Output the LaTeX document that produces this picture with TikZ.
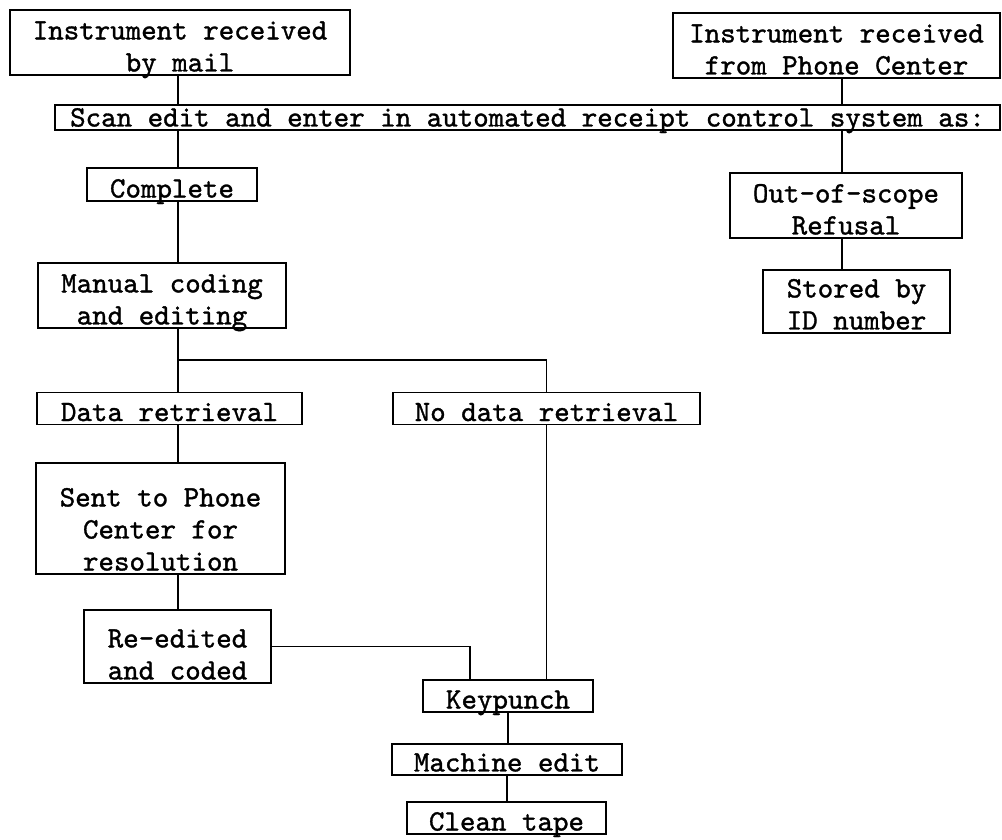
\documentclass[tikz,border=0pt]{standalone}
\usepackage{fontspec}
\newfontfamily\twfont[FakeBold=1.2]{lmmono10-regular.otf}
\usetikzlibrary{positioning,calc}

\begin{document}
\begin{tikzpicture}[x=0.025cm,y=-0.025cm,line width=1.3pt,
  box/.style={draw, font=\twfont\fontsize{21}{22.8}\selectfont, align=center, inner xsep=3pt, inner ysep=0pt, text depth=2.5pt}]
\useasboundingbox (0,0) rectangle (1002,840);

% Spines for the vertical runs
\coordinate (spine) at (178,0);
\coordinate (rspine) at (842,0);

% Incoming instruments
\node[box, text height=43.7pt, minimum width=8.5cm] (mail) at (180,42.5) {Instrument received\\by mail};
\node[box, text height=43.7pt, minimum width=8.175cm] (phone) at (836.5,45.5) {Instrument received\\from Phone Center};

% Receipt control
\node[box, text height=15.3pt, minimum width=23.625cm] (scan) at (527.5,117.5) {Scan edit and enter in automated receipt control system as:};
\node[box, text height=21pt, minimum width=4.25cm] (complete) at (172,184.5) {Complete};
\node[box, text height=43.7pt, minimum width=5.8cm] (oos) at (846,205.5) {Out-of-scope\\Refusal};
\node[box, text height=42.3pt, minimum width=4.675cm] (stored) at (856.5,301.5) {Stored by\\ID number};

% Coding
\node[box, text height=43.7pt, minimum width=6.2cm] (manual) at (162,295.5) {Manual coding\\and editing};
\node[box, text height=20.3pt, minimum width=6.625cm] (dataret) at (169.5,408.5) {Data retrieval};
\node[box, text height=20.3pt, minimum width=7.675cm] (nodata) at (546.5,408.5) {No data retrieval};
\node[box, text height=76.5pt, minimum width=6.225cm] (sent) at (160.5,518.5) {Sent to Phone\\Center for\\resolution};
\node[box, text height=49.4pt, minimum width=4.675cm] (reedit) at (177.5,646.5) {Re-edited\\and coded};

% Output
\node[box, text height=20.3pt, minimum width=4.25cm] (keypunch) at (508,696) {Keypunch};
\node[box, text height=19.5pt, minimum width=5.75cm] (machine) at (507,759.5) {Machine edit};
\node[box, text height=20.3pt, minimum width=4.975cm] (clean) at (506.5,818) {Clean tape};

% Connectors
\draw (mail.south -| spine) -- (scan.north -| spine);
\draw (phone.south -| rspine) -- (scan.north -| rspine);
\draw (scan.south -| spine) -- (complete.north -| spine);
\draw (scan.south -| rspine) -- (oos.north -| rspine);
\draw (oos.south -| rspine) -- (stored.north -| rspine);
\draw (complete.south -| spine) -- (manual.north -| spine);
\draw (manual.south -| spine) -- (dataret.north -| spine);
\draw ($(manual.south -| spine)!0.5!(dataret.north -| spine)$) -| (nodata.north);
\draw (dataret.south -| spine) -- (sent.north -| spine);
\draw (sent.south -| spine) -- (reedit.north -| spine);
\draw (reedit.east) -| ([xshift=-0.95cm]keypunch.north);
\draw (nodata.south) -- (nodata.south |- keypunch.north);
\draw (keypunch.south) -- (keypunch.south |- machine.north);
\draw (machine.south) -- (machine.south |- clean.north);
\end{tikzpicture}
\end{document}
